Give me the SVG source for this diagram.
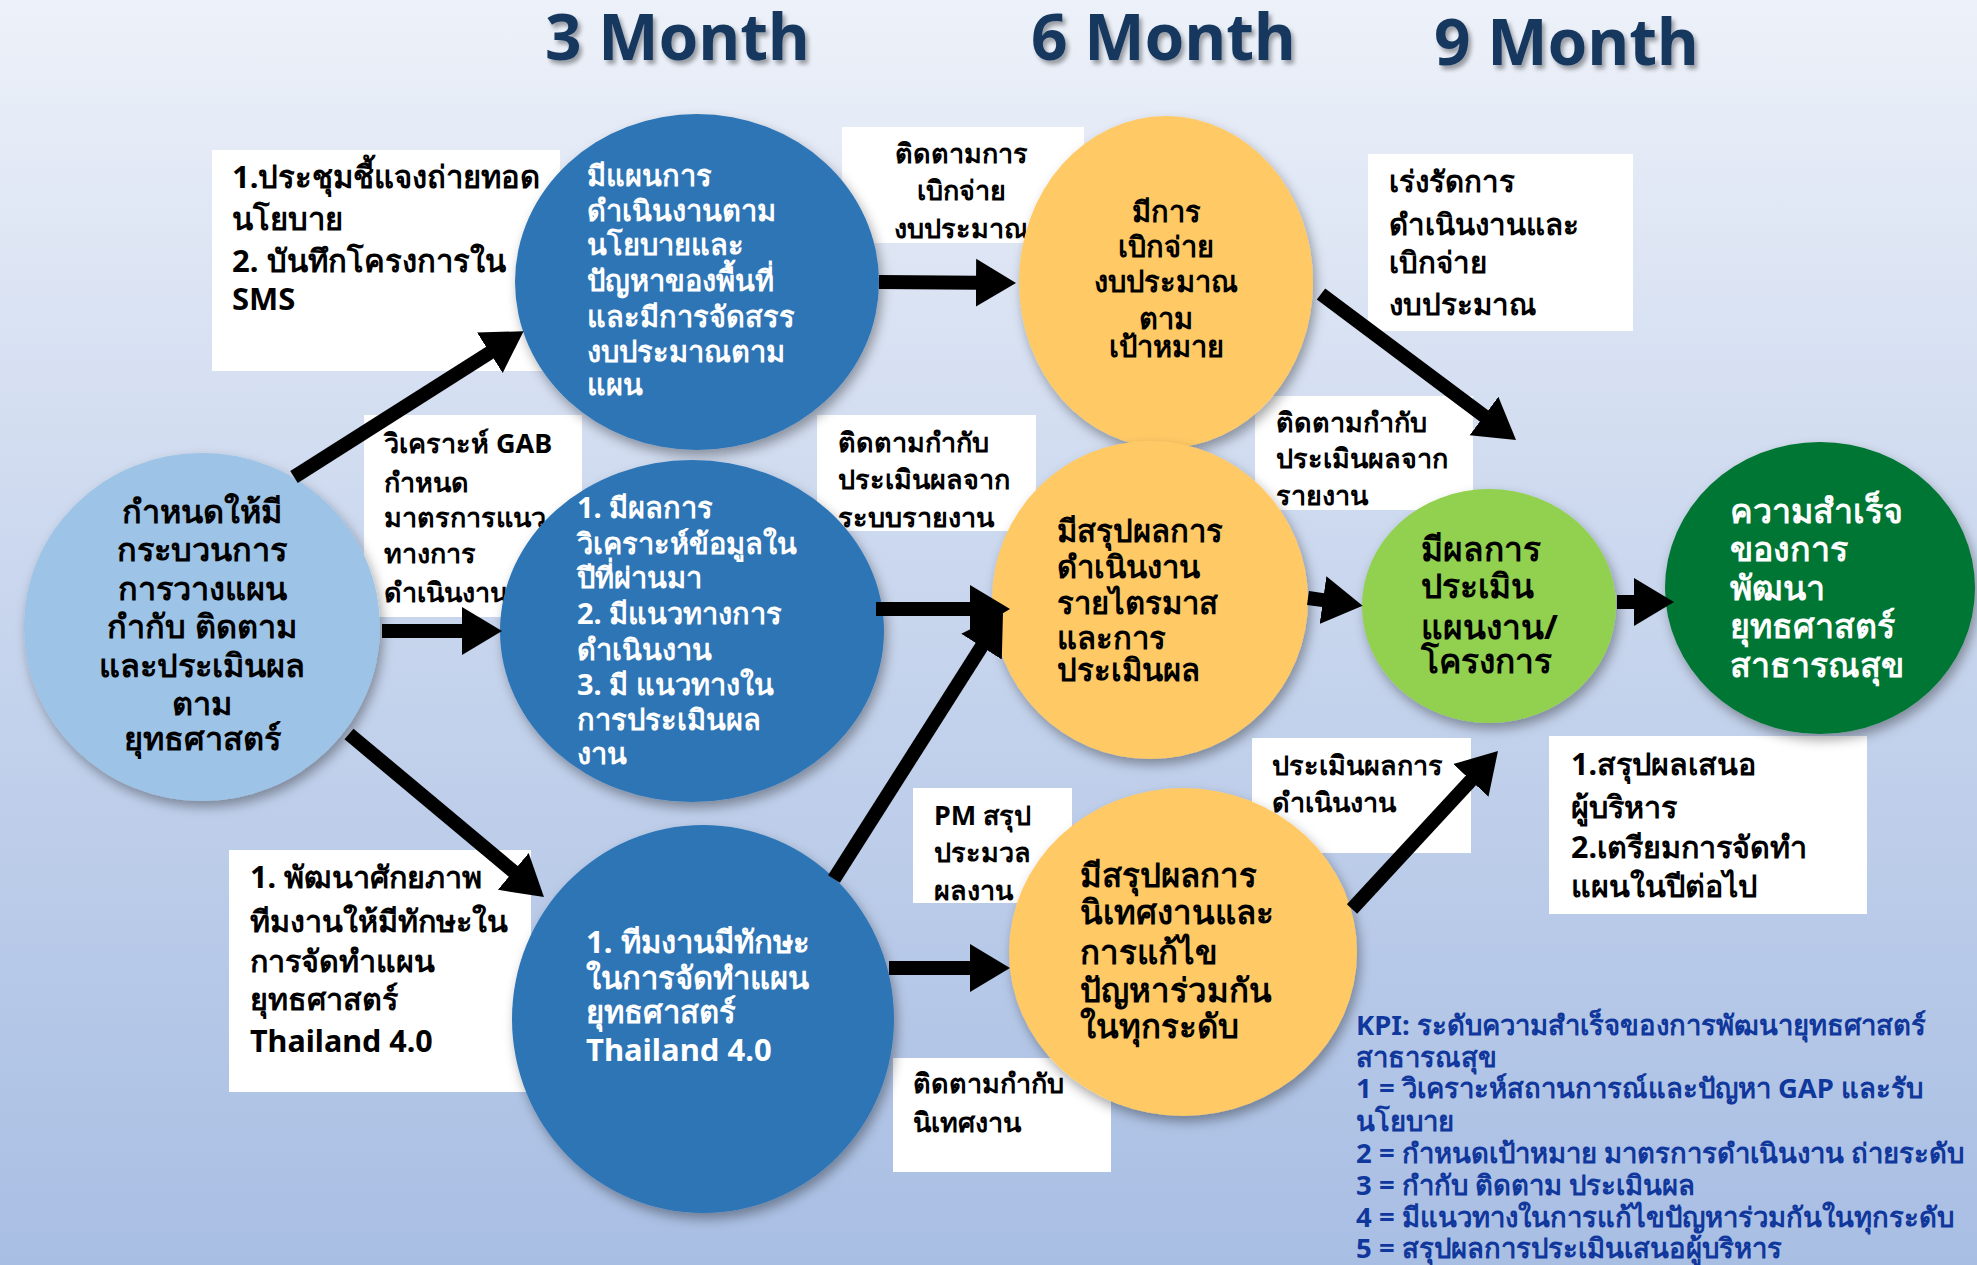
<svg xmlns="http://www.w3.org/2000/svg" width="1977" height="1265" viewBox="0 0 1977 1265">
<defs>
<linearGradient id="bg" x1="0" y1="0" x2="0" y2="1">
<stop offset="0" stop-color="#edf1f9"/>
<stop offset="0.45" stop-color="#cad7ee"/>
<stop offset="1" stop-color="#a8bee3"/>
</linearGradient>
<filter id="sh" x="-20%" y="-20%" width="140%" height="140%">
<feDropShadow dx="3" dy="6" stdDeviation="6" flood-color="#000" flood-opacity="0.35"/>
</filter>
<filter id="tsh" x="-10%" y="-10%" width="120%" height="130%">
<feDropShadow dx="3" dy="4" stdDeviation="2" flood-color="#000" flood-opacity="0.35"/>
</filter>
<marker id="ah" markerUnits="userSpaceOnUse" markerWidth="42" markerHeight="50" refX="2" refY="25" orient="auto">
<path d="M0,1 L40,25 L0,49 z" fill="#000"/>
</marker>
<style>
.title{font-family:"Noto Sans","DejaVu Sans",sans-serif;font-weight:bold;font-size:64px;fill:#17375e;}
.nt{font-family:"Noto Sans","DejaVu Sans",sans-serif;font-weight:bold;font-size:29px;}
.w{fill:#fff;}
.k{fill:#000;}
.lb{font-family:"Noto Sans","DejaVu Sans",sans-serif;font-weight:bold;font-size:27px;fill:#000;}
.box{fill:#fff;}
.kpi{font-family:"Noto Sans","DejaVu Sans",sans-serif;font-weight:bold;font-size:27.5px;fill:#10379c;}
.cn line{stroke:#000;stroke-width:14;marker-end:url(#ah);}
</style>
</defs>
<rect x="0" y="0" width="1977" height="1265" fill="url(#bg)"/>

<g id="titles" filter="url(#tsh)">
<text class="title" x="545" y="60">3 Month</text>
<text class="title" x="1031" y="60">6 Month</text>
<text class="title" x="1434" y="65">9 Month</text>
</g>

<g id="labels">
<g id="lbl-policy">
<rect class="box" x="212" y="150" width="348" height="221"/>
<text class="lb" style="font-size:31px"><tspan x="232" y="188">1.ประชุมชี้แจงถ่ายทอด</tspan><tspan x="232" y="230">นโยบาย</tspan><tspan x="232" y="272">2. บันทึกโครงการใน</tspan><tspan x="232" y="310">SMS</tspan></text>
</g>
<g id="lbl-gab">
<rect class="box" x="364" y="415" width="218" height="202"/>
<text class="lb"><tspan x="384" y="453">วิเคราะห์ GAB</tspan><tspan x="384" y="492">กำหนด</tspan><tspan x="384" y="527">มาตรการแนว</tspan><tspan x="384" y="563">ทางการ</tspan><tspan x="384" y="602">ดำเนินงาน</tspan></text>
</g>
<g id="lbl-disburse">
<rect class="box" x="842" y="127" width="242" height="116"/>
<text class="lb" text-anchor="middle"><tspan x="961" y="163">ติดตามการ</tspan><tspan x="961" y="200">เบิกจ่าย</tspan><tspan x="961" y="238">งบประมาณ</tspan></text>
</g>
<g id="lbl-speed">
<rect class="box" x="1368" y="154" width="265" height="177"/>
<text class="lb" style="font-size:29.5px"><tspan x="1389" y="192">เร่งรัดการ</tspan><tspan x="1389" y="235">ดำเนินงานและ</tspan><tspan x="1389" y="273">เบิกจ่าย</tspan><tspan x="1389" y="315">งบประมาณ</tspan></text>
</g>
<g id="lbl-report-sys">
<rect class="box" x="817" y="415" width="219" height="116"/>
<text class="lb"><tspan x="838" y="452">ติดตามกำกับ</tspan><tspan x="838" y="489">ประเมินผลจาก</tspan><tspan x="838" y="527">ระบบรายงาน</tspan></text>
</g>
<g id="lbl-report">
<rect class="box" x="1255" y="396" width="218" height="114"/>
<text class="lb"><tspan x="1276" y="432">ติดตามกำกับ</tspan><tspan x="1276" y="468">ประเมินผลจาก</tspan><tspan x="1276" y="505">รายงาน</tspan></text>
</g>
<g id="lbl-pm">
<rect class="box" x="913" y="788" width="159" height="115"/>
<text class="lb"><tspan x="934" y="825">PM สรุป</tspan><tspan x="934" y="862">ประมวล</tspan><tspan x="934" y="900">ผลงาน</tspan></text>
</g>
<g id="lbl-supervise">
<rect class="box" x="893" y="1058" width="218" height="114"/>
<text class="lb"><tspan x="913" y="1093">ติดตามกำกับ</tspan><tspan x="913" y="1132">นิเทศงาน</tspan></text>
</g>
<g id="lbl-evaluate">
<rect class="box" x="1252" y="738" width="219" height="115"/>
<text class="lb"><tspan x="1272" y="775">ประเมินผลการ</tspan><tspan x="1272" y="812">ดำเนินงาน</tspan></text>
</g>
<g id="lbl-summary">
<rect class="box" x="1549" y="736" width="318" height="178"/>
<text class="lb" style="font-size:30.5px"><tspan x="1571" y="775">1.สรุปผลเสนอ</tspan><tspan x="1571" y="818">ผู้บริหาร</tspan><tspan x="1571" y="858">2.เตรียมการจัดทำ</tspan><tspan x="1571" y="897">แผนในปีต่อไป</tspan></text>
</g>
<g id="lbl-develop">
<rect class="box" x="229" y="850" width="302" height="242"/>
<text class="lb" style="font-size:30.5px"><tspan x="250" y="888">1. พัฒนาศักยภาพ</tspan><tspan x="250" y="932">ทีมงานให้มีทักษะใน</tspan><tspan x="250" y="972">การจัดทำแผน</tspan><tspan x="250" y="1010">ยุทธศาสตร์</tspan><tspan x="250" y="1052">Thailand 4.0</tspan></text>
</g>
</g>

<g id="nodes">
<g id="node-start">
<ellipse cx="202" cy="627" rx="178" ry="174" fill="#9dc3e6" filter="url(#sh)"/>
<text class="nt k" style="font-size:32.5px" text-anchor="middle"><tspan x="202" y="523">กำหนดให้มี</tspan><tspan x="202" y="561">กระบวนการ</tspan><tspan x="202" y="600">การวางแผน</tspan><tspan x="202" y="638">กำกับ ติดตาม</tspan><tspan x="202" y="677">และประเมินผล</tspan><tspan x="202" y="715">ตาม</tspan><tspan x="202" y="750">ยุทธศาสตร์</tspan></text>
</g>
<g id="node-plan">
<ellipse cx="697" cy="282" rx="182" ry="168" fill="#2e75b6" filter="url(#sh)"/>
<text class="nt w"><tspan x="587" y="186">มีแผนการ</tspan><tspan x="587" y="221">ดำเนินงานตาม</tspan><tspan x="587" y="255">นโยบายและ</tspan><tspan x="587" y="291">ปัญหาของพื้นที่</tspan><tspan x="587" y="327">และมีการจัดสรร</tspan><tspan x="587" y="362">งบประมาณตาม</tspan><tspan x="587" y="395">แผน</tspan></text>
</g>
<g id="node-analysis">
<ellipse cx="692" cy="631" rx="192" ry="171" fill="#2e75b6" filter="url(#sh)"/>
<text class="nt w"><tspan x="577" y="518">1. มีผลการ</tspan><tspan x="577" y="554">วิเคราะห์ข้อมูลใน</tspan><tspan x="577" y="588">ปีที่ผ่านมา</tspan><tspan x="577" y="624">2. มีแนวทางการ</tspan><tspan x="577" y="660">ดำเนินงาน</tspan><tspan x="577" y="695">3. มี แนวทางใน</tspan><tspan x="577" y="730">การประเมินผล</tspan><tspan x="577" y="764">งาน</tspan></text>
</g>
<g id="node-team">
<ellipse cx="703" cy="1019" rx="191" ry="194" fill="#2e75b6" filter="url(#sh)"/>
<text class="nt w" style="font-size:31px"><tspan x="586" y="953">1. ทีมงานมีทักษะ</tspan><tspan x="586" y="989">ในการจัดทำแผน</tspan><tspan x="586" y="1023">ยุทธศาสตร์</tspan><tspan x="586" y="1061">Thailand 4.0</tspan></text>
</g>
<g id="node-budget">
<ellipse cx="1166" cy="282" rx="147" ry="166" fill="#ffc965" filter="url(#sh)"/>
<text class="nt k" text-anchor="middle"><tspan x="1166" y="222">มีการ</tspan><tspan x="1166" y="257">เบิกจ่าย</tspan><tspan x="1166" y="292">งบประมาณ</tspan><tspan x="1166" y="329">ตาม</tspan><tspan x="1166" y="357">เป้าหมาย</tspan></text>
</g>
<g id="node-quarter">
<ellipse cx="1150" cy="600" rx="158" ry="159" fill="#ffc965" filter="url(#sh)"/>
<text class="nt k" style="font-size:31px"><tspan x="1057" y="542">มีสรุปผลการ</tspan><tspan x="1057" y="578">ดำเนินงาน</tspan><tspan x="1057" y="614">รายไตรมาส</tspan><tspan x="1057" y="649">และการ</tspan><tspan x="1057" y="681">ประเมินผล</tspan></text>
</g>
<g id="node-supervision">
<ellipse cx="1183" cy="952" rx="174" ry="164" fill="#ffc965" filter="url(#sh)"/>
<text class="nt k" style="font-size:33px"><tspan x="1080" y="887">มีสรุปผลการ</tspan><tspan x="1080" y="924">นิเทศงานและ</tspan><tspan x="1080" y="964">การแก้ไข</tspan><tspan x="1080" y="1002">ปัญหาร่วมกัน</tspan><tspan x="1080" y="1038">ในทุกระดับ</tspan></text>
</g>
<g id="node-eval">
<ellipse cx="1489" cy="606" rx="127" ry="117" fill="#92d050" filter="url(#sh)"/>
<text class="nt k" style="font-size:33.5px"><tspan x="1421" y="561">มีผลการ</tspan><tspan x="1421" y="598">ประเมิน</tspan><tspan x="1421" y="639">แผนงาน/</tspan><tspan x="1421" y="673">โครงการ</tspan></text>
</g>
<g id="node-success">
<ellipse cx="1820" cy="588" rx="155" ry="146" fill="#057634" filter="url(#sh)"/>
<text class="nt w" style="font-size:34px"><tspan x="1730" y="523">ความสำเร็จ</tspan><tspan x="1730" y="561">ของการ</tspan><tspan x="1730" y="600">พัฒนา</tspan><tspan x="1730" y="638">ยุทธศาสตร์</tspan><tspan x="1730" y="677">สาธารณสุข</tspan></text>
</g>
</g>

<g id="connectors" class="cn">
<line x1="294" y1="477" x2="491.5" y2="351.6"/>
<line x1="382" y1="631" x2="464" y2="631"/>
<line x1="349" y1="734" x2="514.8" y2="872.7"/>
<line x1="879" y1="282" x2="978" y2="282.7"/>
<line x1="1321" y1="294" x2="1485.6" y2="417.2"/>
<line x1="876" y1="609" x2="972" y2="609"/>
<line x1="834" y1="879" x2="982.6" y2="645"/>
<line x1="889" y1="968" x2="972" y2="968"/>
<line x1="1308" y1="598" x2="1325" y2="600.4"/>
<line x1="1617" y1="602" x2="1636" y2="602"/>
<line x1="1352" y1="909" x2="1472.2" y2="778.9"/>
</g>

<g id="kpi">
<text class="kpi"><tspan x="1356" y="1035">KPI: ระดับความสำเร็จของการพัฒนายุทธศาสตร์</tspan><tspan x="1356" y="1067">สาธารณสุข</tspan><tspan x="1356" y="1098">1 = วิเคราะห์สถานการณ์และปัญหา GAP และรับ</tspan><tspan x="1356" y="1131">นโยบาย</tspan><tspan x="1356" y="1163">2 = กำหนดเป้าหมาย มาตรการดำเนินงาน ถ่ายระดับ</tspan><tspan x="1356" y="1195">3 = กำกับ ติดตาม ประเมินผล</tspan><tspan x="1356" y="1227">4 = มีแนวทางในการแก้ไขปัญหาร่วมกันในทุกระดับ</tspan><tspan x="1356" y="1258">5 = สรุปผลการประเมินเสนอผู้บริหาร</tspan></text>
</g>
</svg>
